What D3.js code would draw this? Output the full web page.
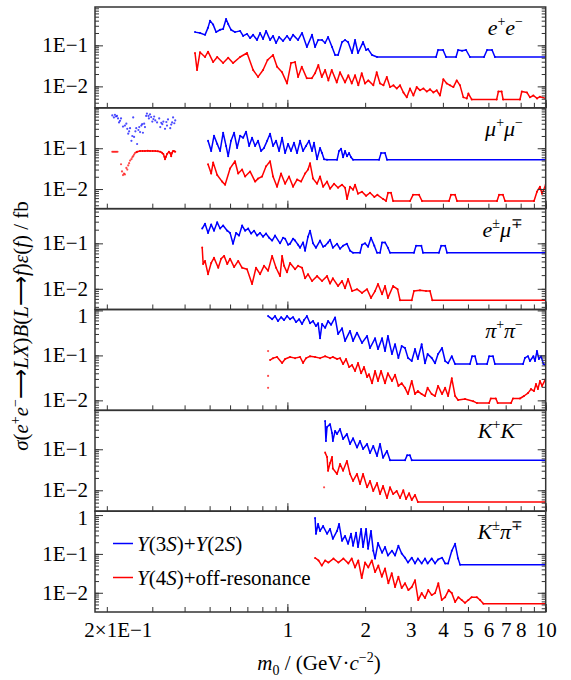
<!DOCTYPE html>
<html><head><meta charset="utf-8">
<script src="https://cdn.jsdelivr.net/npm/d3@7"></script>
<style>body{margin:0;background:#fff}svg{display:block}svg text{font-family:"Liberation Serif","Times New Roman",serif}</style>
</head><body><svg id="c" width="571" height="680"></svg>
<script>
// ---------------- data ----------------
const xDomain = [0.18, 10];
const xTickValues = [0.2,0.3,0.4,0.5,0.6,0.7,0.8,0.9,1,2,3,4,5,6,7,8,9,10];
const xMajorTicks = [1, 10];
const xTickLabels = [[0.2,"2×1E−1"],[1,"1"],[2,"2"],[3,"3"],[4,"4"],[5,"5"],[6,"6"],[7,"7"],[8,"8"],[10,"10"]];
const yTickText = {"1":"1","0.1":"1E−1","0.01":"1E−2"};

const panelNames = [
  [["e","+"],["e","−"]],
  [["μ","+"],["μ","−"]],
  [["e","±"],["μ","∓"]],
  [["π","+"],["π","−"]],
  [["K","+"],["K","−"]],
  [["K","±"],["π","∓"]]
];
const yDomains = [[0.0030,0.86],[0.0033,0.98],[0.0035,0.58],[0.0060,1.05],[0.0031,0.89],[0.0032,1.26]];
const yTickLabels = [[0.1,0.01],[0.1,0.01],[0.1,0.01],[1,0.1,0.01],[0.1,0.01],[1,0.1,0.01]];
const legendLabels = ["Y(3S)+Y(2S)", "Y(4S)+off-resonance"];

const blueEE = [[0.439,0.21],[0.459,0.20],[0.480,0.18],[0.493,0.27],[0.502,0.40],[0.516,0.32],[0.530,0.21],[0.549,0.24],[0.564,0.25],[0.579,0.44],[0.590,0.33],[0.605,0.24],[0.627,0.21],[0.656,0.225],[0.674,0.17],[0.698,0.19],[0.717,0.15],[0.737,0.18],[0.763,0.135],[0.784,0.20],[0.805,0.143],[0.827,0.225],[0.857,0.135],[0.880,0.17],[0.904,0.114],[0.929,0.16],[0.962,0.128],[0.997,0.17],[1.024,0.135],[1.052,0.18],[1.10,0.135],[1.14,0.20],[1.19,0.091],[1.246,0.18],[1.28,0.091],[1.315,0.135],[1.362,0.135],[1.40,0.114],[1.437,0.16],[1.489,0.091],[1.53,0.058],[1.571,0.058],[1.628,0.12],[1.672,0.135],[1.718,0.12],[1.78,0.065],[1.828,0.135],[1.877,0.065],[1.963,0.12],[2.017,0.077],[2.053,0.081],[2.127,0.058],[2.224,0.052],[3.763,0.052],[3.83,0.077],[4.005,0.077],[4.114,0.052],[4.497,0.052],[4.578,0.077],[4.744,0.074],[4.917,0.077],[5.09,0.052],[5.77,0.052],[5.93,0.077],[6.20,0.077],[6.36,0.052],[10,0.052]];
const redEE = [[0.439,0.065],[0.447,0.025],[0.459,0.068],[0.480,0.052],[0.493,0.07],[0.516,0.039],[0.535,0.052],[0.564,0.037],[0.590,0.05],[0.616,0.037],[0.656,0.052],[0.698,0.065],[0.737,0.025],[0.770,0.017],[0.805,0.025],[0.838,0.044],[0.880,0.058],[0.912,0.03],[0.954,0.022],[0.997,0.0118],[1.033,0.037],[1.071,0.039],[1.10,0.017],[1.137,0.03],[1.189,0.0157],[1.243,0.0157],[1.28,0.021],[1.318,0.033],[1.359,0.017],[1.40,0.025],[1.441,0.014],[1.485,0.025],[1.553,0.0125],[1.599,0.022],[1.672,0.0125],[1.722,0.0186],[1.775,0.0118],[1.828,0.0186],[1.882,0.0106],[1.940,0.021],[1.998,0.0118],[2.057,0.014],[2.151,0.0106],[2.217,0.022],[2.284,0.0118],[2.355,0.0106],[2.426,0.017],[2.497,0.0096],[2.574,0.0106],[2.651,0.0089],[2.73,0.0106],[2.813,0.0071],[2.899,0.0054],[2.984,0.0089],[3.075,0.006],[3.167,0.0096],[3.262,0.008],[3.362,0.0089],[3.463,0.0075],[3.566,0.0085],[3.675,0.0071],[3.786,0.008],[3.898,0.006],[4.015,0.015],[4.139,0.0118],[4.262,0.0106],[4.391,0.0096],[4.525,0.014],[4.659,0.0106],[4.80,0.0054],[4.948,0.0051],[5.02,0.0067],[5.17,0.0048],[6.46,0.0048],[6.56,0.0075],[6.75,0.0075],[6.84,0.0048],[7.95,0.0048],[8.08,0.0075],[8.46,0.0071],[8.69,0.0054],[8.96,0.006],[9.26,0.0051],[9.50,0.0056],[10,0.0051]];

const blueMuMuLow = [[0.21,0.64],[0.213,0.57],[0.215,0.66],[0.217,0.60],[0.219,0.62],[0.221,0.54],[0.223,0.43],[0.225,0.47],[0.227,0.54],[0.231,0.34],[0.235,0.36],[0.238,0.40],[0.24,0.30],[0.242,0.228],[0.244,0.26],[0.246,0.31],[0.249,0.152],[0.251,0.2],[0.253,0.57],[0.255,0.19],[0.258,0.26],[0.26,0.31],[0.262,0.127],[0.265,0.28],[0.267,0.33],[0.269,0.25],[0.272,0.36],[0.274,0.39],[0.276,0.24],[0.279,0.40],[0.281,0.33],[0.284,0.62],[0.286,0.71],[0.29,0.62],[0.291,0.54],[0.294,0.68],[0.297,0.58],[0.30,0.45],[0.303,0.52],[0.305,0.6],[0.308,0.48],[0.313,0.43],[0.319,0.54],[0.322,0.33],[0.325,0.42],[0.328,0.39],[0.331,0.45],[0.336,0.30],[0.34,0.44],[0.342,0.36],[0.345,0.51],[0.352,0.31],[0.355,0.38],[0.358,0.43],[0.361,0.57],[0.365,0.41],[0.368,0.48]];
const redMuMuLowDots = [[0.21,0.082],[0.212,0.082],[0.214,0.082],[0.216,0.082],[0.218,0.082],[0.220,0.082],[0.227,0.0405],[0.229,0.027],[0.231,0.022],[0.233,0.024],[0.235,0.0228],[0.238,0.033],[0.24,0.03],[0.242,0.038],[0.244,0.043],[0.246,0.05],[0.249,0.054],[0.251,0.06],[0.253,0.064],[0.255,0.07],[0.257,0.076]];
const redMuMuLow = [[0.26,0.08],[0.262,0.082],[0.269,0.0856],[0.275,0.086],[0.281,0.0856],[0.288,0.087],[0.294,0.0856],[0.301,0.086],[0.308,0.0856],[0.315,0.084],[0.322,0.082],[0.327,0.078],[0.331,0.072],[0.334,0.062],[0.336,0.054],[0.339,0.062],[0.342,0.072],[0.348,0.082],[0.352,0.075],[0.355,0.064],[0.358,0.078],[0.361,0.0856],[0.365,0.084],[0.368,0.082]];
const blueMuMu = [[0.493,0.152],[0.507,0.086],[0.520,0.203],[0.535,0.128],[0.549,0.086],[0.564,0.24],[0.579,0.114],[0.590,0.064],[0.605,0.152],[0.622,0.24],[0.639,0.102],[0.656,0.203],[0.674,0.18],[0.692,0.255],[0.711,0.114],[0.730,0.18],[0.750,0.114],[0.770,0.152],[0.791,0.086],[0.812,0.102],[0.835,0.152],[0.857,0.228],[0.880,0.114],[0.904,0.152],[0.929,0.086],[0.954,0.18],[0.980,0.076],[1.006,0.128],[1.033,0.086],[1.061,0.136],[1.090,0.076],[1.12,0.152],[1.15,0.086],[1.181,0.114],[1.213,0.152],[1.246,0.086],[1.268,0.136],[1.303,0.054],[1.338,0.102],[1.362,0.076],[1.387,0.054],[1.424,0.052],[1.557,0.052],[1.585,0.086],[1.614,0.097],[1.643,0.06],[1.672,0.086],[1.702,0.064],[1.733,0.076],[1.764,0.06],[1.796,0.052],[2.264,0.052],[2.305,0.076],[2.388,0.076],[2.431,0.052],[10,0.052]];
const redMuMu = [[0.493,0.0405],[0.507,0.024],[0.516,0.045],[0.535,0.022],[0.559,0.0152],[0.574,0.0128],[0.600,0.032],[0.627,0.048],[0.645,0.024],[0.668,0.030],[0.686,0.0203],[0.717,0.027],[0.750,0.0152],[0.770,0.018],[0.798,0.0203],[0.827,0.036],[0.857,0.048],[0.880,0.0203],[0.912,0.0114],[0.945,0.024],[0.980,0.0135],[1.015,0.0203],[1.052,0.0114],[1.090,0.0171],[1.13,0.0152],[1.171,0.024],[1.202,0.030],[1.224,0.043],[1.257,0.018],[1.303,0.0135],[1.338,0.0203],[1.375,0.0114],[1.424,0.0152],[1.463,0.0102],[1.516,0.0135],[1.571,0.0108],[1.628,0.0128],[1.672,0.0108],[1.702,0.0057],[1.748,0.0114],[1.796,0.0096],[1.828,0.0128],[1.877,0.0077],[1.945,0.0086],[2.017,0.0068],[2.089,0.0081],[2.172,0.0064],[2.231,0.0072],[2.346,0.0057],[2.41,0.0051],[2.453,0.0081],[2.519,0.0081],[2.566,0.0051],[2.985,0.0051],[3.065,0.0072],[3.234,0.0072],[3.32,0.0051],[4.225,0.0051],[4.30,0.0072],[4.457,0.0072],[4.537,0.0051],[6.48,0.0051],[6.6,0.0072],[6.83,0.0072],[6.96,0.0051],[9.01,0.0051],[9.25,0.0086],[9.5,0.0114],[9.68,0.0077],[10,0.0128]];

const blueEMu = [[0.468,0.212],[0.480,0.27],[0.493,0.17],[0.507,0.26],[0.520,0.19],[0.535,0.29],[0.549,0.212],[0.564,0.247],[0.585,0.19],[0.600,0.17],[0.616,0.098],[0.633,0.17],[0.650,0.148],[0.668,0.247],[0.686,0.19],[0.705,0.212],[0.724,0.164],[0.743,0.19],[0.763,0.148],[0.784,0.17],[0.805,0.14],[0.827,0.164],[0.850,0.133],[0.873,0.115],[0.896,0.148],[0.937,0.10],[0.962,0.133],[0.980,0.127],[1.006,0.093],[1.024,0.098],[1.052,0.127],[1.071,0.115],[1.10,0.093],[1.12,0.08],[1.15,0.105],[1.171,0.069],[1.202,0.14],[1.224,0.19],[1.257,0.10],[1.29,0.08],[1.338,0.115],[1.375,0.084],[1.40,0.089],[1.437,0.105],[1.463,0.12],[1.50,0.08],[1.557,0.098],[1.599,0.076],[1.643,0.089],[1.70,0.098],[1.748,0.069],[1.796,0.062],[1.911,0.062],[1.945,0.093],[1.998,0.10],[2.053,0.084],[2.107,0.133],[2.17,0.089],[2.224,0.062],[2.284,0.062],[2.326,0.105],[2.388,0.105],[2.45,0.08],[2.497,0.062],[3.09,0.062],[3.15,0.089],[3.30,0.089],[3.35,0.062],[3.86,0.062],[3.94,0.089],[4.08,0.089],[4.15,0.062],[10,0.062]];
const redEMu = [[0.468,0.081],[0.472,0.035],[0.480,0.041],[0.493,0.021],[0.507,0.037],[0.520,0.048],[0.540,0.029],[0.554,0.046],[0.569,0.053],[0.585,0.035],[0.600,0.046],[0.622,0.03],[0.645,0.041],[0.668,0.029],[0.698,0.027],[0.730,0.0127],[0.756,0.029],[0.784,0.021],[0.812,0.032],[0.842,0.025],[0.873,0.053],[0.904,0.029],[0.937,0.019],[0.954,0.053],[0.971,0.032],[0.997,0.023],[1.024,0.037],[1.071,0.027],[1.10,0.032],[1.14,0.029],[1.171,0.017],[1.202,0.021],[1.246,0.0148],[1.303,0.019],[1.362,0.0148],[1.424,0.019],[1.463,0.013],[1.50,0.017],[1.571,0.0115],[1.628,0.0148],[1.672,0.0103],[1.718,0.0164],[1.78,0.0089],[1.86,0.0098],[1.945,0.0081],[2.035,0.0098],[2.107,0.0063],[2.185,0.0089],[2.243,0.0127],[2.326,0.0076],[2.388,0.0115],[2.45,0.0063],[2.566,0.0115],[2.67,0.0098],[2.73,0.0056],[3.03,0.0056],[3.09,0.0089],[3.26,0.0093],[3.44,0.0089],[3.566,0.0089],[3.64,0.0056],[10,0.0056]];

const bluePiPi = [[0.842,0.75],[0.873,0.64],[0.896,0.75],[0.920,0.58],[0.946,0.71],[0.971,0.61],[0.997,0.75],[1.024,0.64],[1.052,0.71],[1.08,0.55],[1.11,0.64],[1.14,0.50],[1.16,0.61],[1.19,0.75],[1.224,0.52],[1.257,0.58],[1.29,0.45],[1.315,0.52],[1.338,0.24],[1.362,0.50],[1.40,0.41],[1.437,0.58],[1.476,0.48],[1.53,0.70],[1.571,0.30],[1.628,0.40],[1.672,0.21],[1.748,0.35],[1.796,0.21],[1.86,0.32],[1.945,0.19],[2.035,0.27],[2.089,0.146],[2.185,0.24],[2.243,0.138],[2.326,0.24],[2.388,0.125],[2.45,0.27],[2.54,0.107],[2.611,0.178],[2.69,0.088],[2.77,0.161],[2.854,0.146],[2.93,0.088],[3.03,0.075],[3.12,0.138],[3.20,0.083],[3.31,0.178],[3.41,0.067],[3.49,0.107],[3.62,0.088],[3.73,0.067],[3.83,0.107],[3.97,0.146],[4.08,0.075],[4.19,0.067],[4.33,0.096],[4.46,0.064],[5.09,0.064],[5.19,0.096],[5.325,0.096],[5.42,0.064],[5.93,0.064],[6.04,0.096],[6.25,0.096],[6.36,0.064],[8.17,0.064],[8.31,0.088],[8.54,0.096],[8.69,0.075],[8.96,0.096],[9.09,0.075],[9.25,0.125],[9.41,0.083],[9.6,0.096],[9.8,0.064],[10,0.061]];
const redPiPiDots = [[0.842,0.125],[0.842,0.035],[0.842,0.019]];
const redPiPi = [[0.857,0.079],[0.88,0.087],[0.912,0.092],[0.954,0.068],[0.98,0.083],[1.024,0.092],[1.071,0.087],[1.12,0.092],[1.15,0.068],[1.181,0.087],[1.224,0.096],[1.28,0.092],[1.338,0.087],[1.40,0.096],[1.463,0.087],[1.50,0.092],[1.557,0.083],[1.599,0.087],[1.643,0.064],[1.687,0.083],[1.733,0.055],[1.78,0.061],[1.828,0.045],[1.877,0.068],[1.93,0.04],[1.98,0.055],[2.035,0.033],[2.07,0.038],[2.127,0.024],[2.185,0.045],[2.243,0.027],[2.305,0.045],[2.388,0.024],[2.45,0.04],[2.54,0.027],[2.611,0.037],[2.69,0.021],[2.77,0.024],[2.854,0.019],[2.93,0.0138],[3.03,0.027],[3.12,0.0138],[3.20,0.0161],[3.31,0.0138],[3.41,0.0125],[3.49,0.019],[3.62,0.0138],[3.73,0.0125],[3.83,0.021],[3.97,0.0138],[4.08,0.019],[4.19,0.0125],[4.33,0.031],[4.46,0.0125],[4.58,0.0102],[4.87,0.0107],[5.24,0.0096],[5.42,0.0087],[6.04,0.0087],[6.13,0.011],[6.41,0.011],[6.52,0.0087],[7.34,0.0087],[7.47,0.011],[7.95,0.011],[8.24,0.0125],[8.54,0.0145],[8.77,0.0178],[9.01,0.0161],[9.17,0.023],[9.33,0.0178],[9.5,0.027],[9.68,0.021],[10,0.030]];

const blueKK = [[1.40,0.49],[1.41,0.16],[1.424,0.35],[1.463,0.41],[1.489,0.25],[1.50,0.16],[1.53,0.28],[1.557,0.236],[1.599,0.31],[1.643,0.178],[1.70,0.236],[1.748,0.135],[1.796,0.185],[1.86,0.11],[1.911,0.16],[1.963,0.102],[2.035,0.135],[2.089,0.081],[2.15,0.12],[2.224,0.069],[2.284,0.135],[2.346,0.062],[2.43,0.091],[2.497,0.054],[2.854,0.054],[2.91,0.072],[2.98,0.072],[3.03,0.054],[10,0.054]];
const redKKDots = [[1.387,0.0118]];
const redKK = [[1.40,0.083],[1.424,0.065],[1.437,0.030],[1.463,0.046],[1.489,0.065],[1.50,0.034],[1.557,0.025],[1.599,0.044],[1.643,0.030],[1.70,0.052],[1.748,0.025],[1.796,0.0169],[1.86,0.025],[1.911,0.0143],[1.963,0.025],[2.035,0.0118],[2.089,0.0169],[2.15,0.0096],[2.224,0.015],[2.284,0.0081],[2.346,0.0127],[2.43,0.0065],[2.497,0.0118],[2.566,0.0081],[2.65,0.0096],[2.73,0.0065],[2.81,0.010],[2.88,0.0061],[2.96,0.0085],[3.03,0.0058],[3.12,0.0077],[3.20,0.0052],[10,0.0052]];

const blueKPi = [[1.28,0.84],[1.29,0.33],[1.315,0.59],[1.338,0.39],[1.375,0.52],[1.424,0.33],[1.463,0.44],[1.50,0.244],[1.557,0.39],[1.585,0.59],[1.628,0.218],[1.672,0.29],[1.718,0.182],[1.764,0.33],[1.796,0.163],[1.845,0.35],[1.877,0.15],[1.93,0.44],[1.963,0.15],[2.017,0.44],[2.053,0.136],[2.107,0.39],[2.15,0.121],[2.185,0.076],[2.243,0.19],[2.326,0.107],[2.388,0.15],[2.45,0.091],[2.54,0.121],[2.611,0.091],[2.69,0.163],[2.77,0.102],[2.854,0.08],[2.93,0.06],[3.03,0.08],[3.12,0.057],[3.20,0.076],[3.31,0.057],[3.41,0.076],[3.49,0.057],[3.62,0.076],[3.73,0.057],[3.83,0.072],[3.97,0.08],[4.08,0.057],[4.19,0.057],[4.33,0.121],[4.46,0.182],[4.58,0.076],[4.66,0.053],[10,0.053]];
const redKPi = [[1.28,0.079],[1.32,0.068],[1.359,0.05],[1.40,0.068],[1.441,0.06],[1.508,0.076],[1.575,0.06],[1.647,0.076],[1.722,0.057],[1.775,0.076],[1.828,0.045],[1.882,0.068],[1.94,0.024],[1.998,0.06],[2.057,0.045],[2.123,0.068],[2.185,0.034],[2.25,0.05],[2.32,0.026],[2.388,0.042],[2.46,0.0176],[2.535,0.032],[2.611,0.014],[2.69,0.026],[2.77,0.0132],[2.854,0.0176],[2.94,0.0117],[3.03,0.014],[3.12,0.021],[3.21,0.0065],[3.31,0.0098],[3.41,0.0073],[3.51,0.0117],[3.62,0.0087],[3.73,0.0098],[3.84,0.0176],[3.96,0.0065],[4.08,0.0077],[4.21,0.0117],[4.33,0.0098],[4.46,0.0058],[4.59,0.0077],[4.73,0.0065],[4.87,0.0055],[5.02,0.0065],[5.17,0.0077],[5.41,0.0077],[5.57,0.0065],[5.74,0.0052],[10,0.0052]];

// ---------------- layout / style ----------------
const COLORS = {blue:"#0000ff", red:"#ff0000"};
const FONT = "Liberation Serif";
const plotLeft = 95, plotRight = 545.7, plotTop = 7, plotBottom = 612;
const nP = 6, ph = (plotBottom - plotTop) / nP;

const panels = [
  {lines:[[blueEE,"blue"],[redEE,"red"]], dots:[]},
  {lines:[[blueMuMu,"blue"],[redMuMu,"red"],[redMuMuLow,"red"]], dots:[[blueMuMuLow,"blue"],[redMuMuLowDots,"red"]]},
  {lines:[[blueEMu,"blue"],[redEMu,"red"]], dots:[]},
  {lines:[[bluePiPi,"blue"],[redPiPi,"red"]], dots:[[redPiPiDots,"red"]]},
  {lines:[[blueKK,"blue"],[redKK,"red"]], dots:[[redKKDots,"red"]]},
  {lines:[[blueKPi,"blue"],[redKPi,"red"]], dots:[]}
];

const svg = d3.select("#c");
const x = d3.scaleLog().domain(xDomain).range([plotLeft, plotRight]);

function decadeTicks(dom, majorOnly){
  const out = [];
  for (let e = -4; e <= 1; e++) {
    const d = Math.pow(10, e);
    for (let k = 1; k <= 9; k++) {
      if (majorOnly && k > 1) continue;
      const v = +(d * k).toPrecision(6);
      if (v >= dom[0] * 0.999 && v <= dom[1] * 1.001) out.push(v);
    }
  }
  return out;
}

function styleAxis(g){
  g.attr("font-family", null);
  g.select(".domain").remove();
  g.selectAll(".tick line").attr("stroke","#333").attr("stroke-width",1);
  g.selectAll("text").attr("font-family",FONT).attr("font-size",21).attr("fill","#000");
}

panels.forEach((p, i) => {
  const top = plotTop + i * ph, bot = top + ph;
  const dom = yDomains[i];
  const y = d3.scaleLog().domain(dom).range([bot, top]);
  const g = svg.append("g");

  svg.append("clipPath").attr("id","clip"+i).append("rect")
    .attr("x",plotLeft).attr("y",top).attr("width",plotRight-plotLeft).attr("height",ph);
  const dg = g.append("g").attr("clip-path",`url(#clip${i})`);

  const line = d3.line().x(d => x(d[0])).y(d => y(d[1]));
  p.lines.forEach(([data, c]) => {
    dg.append("path").datum(data).attr("d", line)
      .attr("fill","none").attr("stroke",COLORS[c]).attr("stroke-width",1.5)
      .attr("stroke-linejoin","round");
    dg.append("g").selectAll("circle").data(data).join("circle")
      .attr("cx", d => x(d[0])).attr("cy", d => y(d[1])).attr("r",1.0)
      .attr("fill",COLORS[c]);
  });
  p.dots.forEach(([data, c]) => {
    dg.append("g").selectAll("circle").data(data).join("circle")
      .attr("cx", d => x(d[0])).attr("cy", d => y(d[1])).attr("r",1.1)
      .attr("fill",COLORS[c]).attr("opacity",0.7);
  });

  const minor = decadeTicks(dom, false);
  const major = decadeTicks(dom, true);
  const gl = g.append("g").attr("transform",`translate(${plotLeft},0)`);
  gl.append("g").call(d3.axisLeft(y).tickValues(minor).tickSize(-4).tickFormat("")).call(styleAxis);
  gl.append("g").call(d3.axisLeft(y).tickValues(major).tickSize(-8).tickFormat("")).call(styleAxis);
  const labs = yTickLabels[i];
  const gLab = gl.append("g").call(d3.axisLeft(y).tickValues(labs).tickSize(0).tickPadding(7)
      .tickFormat(v => yTickText[String(v)])).call(styleAxis);
  gLab.selectAll(".tick").attr("transform", v => `translate(0,${Math.max(y(v), top + 7)})`);
  const gr = g.append("g").attr("transform",`translate(${plotRight},0)`);
  gr.append("g").call(d3.axisRight(y).tickValues(minor).tickSize(-4).tickFormat("")).call(styleAxis);
  gr.append("g").call(d3.axisRight(y).tickValues(major).tickSize(-8).tickFormat("")).call(styleAxis);

  const gx = g.append("g").attr("transform",`translate(0,${bot})`);
  gx.append("g").call(d3.axisBottom(x).tickValues(xTickValues).tickSize(-5).tickFormat("")).call(styleAxis);
  gx.append("g").call(d3.axisBottom(x).tickValues(xMajorTicks).tickSize(-8).tickFormat("")).call(styleAxis);
  if (i === nP - 1) {
    const lab = new Map(xTickLabels);
    const gxl = gx.append("g").call(d3.axisBottom(x).tickValues(xTickLabels.map(d => d[0]))
      .tickSize(0).tickPadding(10).tickFormat(v => lab.get(v))).call(styleAxis);
    gxl.selectAll(".tick text").filter(v => v === 0.2).attr("dx", 11);
  }

  g.append("rect").attr("x",plotLeft).attr("y",top).attr("width",plotRight-plotLeft).attr("height",ph)
    .attr("fill","none").attr("stroke","#333").attr("stroke-width",1.5);

  const t = g.append("text").attr("x",523).attr("y",top + 28).attr("text-anchor","end")
    .attr("font-family",FONT).attr("font-size",22).attr("fill","#000");
  panelNames[i].forEach(([b, s], k) => {
    t.append("tspan").attr("font-style","italic").attr("dy", k === 0 ? 0 : 9).text(b);
    t.append("tspan").attr("font-size",14).attr("dy",-9).text(s);
  });
});

// legend
const legendColors = ["blue","red"];
const legY = [543.5, 577.5];
legendLabels.forEach((lbl, k) => {
  const g = svg.append("g");
  g.append("line").attr("x1",113).attr("x2",133).attr("y1",legY[k]).attr("y2",legY[k])
    .attr("stroke",COLORS[legendColors[k]]).attr("stroke-width",1.5);
  const t = g.append("text").attr("x",137).attr("y",legY[k] + 7).attr("font-family",FONT)
    .attr("font-size",21).attr("fill","#000");
  const parts = lbl.split(/(Y|S)/).filter(s => s.length);
  parts.forEach(s => {
    const ts = t.append("tspan").text(s);
    if (s === "Y" || s === "S") ts.attr("font-style","italic");
  });
});

function rich(t, parts){
  let shift = 0;
  parts.forEach(([s, st]) => {
    const ts = t.append("tspan").text(s);
    let target = 0;
    if (st === "i") ts.attr("font-style","italic");
    if (st === "sup") { ts.attr("font-size",14); target = -8; }
    if (st === "sub") { ts.attr("font-size",14); target = 5; }
    ts.attr("dy", target - shift); shift = target;
  });
}
const xt = svg.append("text").attr("x",319).attr("y",670).attr("text-anchor","middle")
  .attr("font-family",FONT).attr("font-size",21).attr("fill","#000");
rich(xt, [["m","i"],["0","sub"],[" / (GeV·",""],["c","i"],["−2","sup"],[")",""]]);

const yt = svg.append("text").attr("transform","translate(28,326) rotate(-90)").attr("text-anchor","middle")
  .attr("font-family",FONT).attr("font-size",21).attr("fill","#000");
rich(yt, [["σ","i"],["(",""],["e","i"],["+","sup"],["e","i"],["−","sup"],["⟶",""],["LX","i"],[")",""],["B","i"],["(",""],["L","i"],["⟶",""],["f","i"],[")",""],["ε","i"],["(",""],["f","i"],[") / fb",""]]);
</script>
</body></html>
